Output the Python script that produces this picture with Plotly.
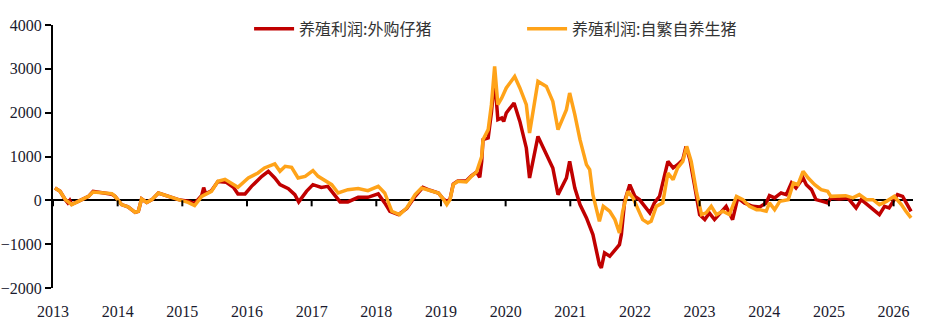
import plotly.graph_objects as go

# Hog farming profit, yuan per head (weekly, decimal-year time axis)
years = list(range(2013, 2027))

purchased_x = [
    2013.03, 2013.11, 2013.19, 2013.23, 2013.26, 2013.29, 2013.39, 2013.55, 2013.62, 2013.75,
    2013.91, 2013.96, 2014.06, 2014.16, 2014.27, 2014.32, 2014.37, 2014.45, 2014.53, 2014.63,
    2014.78, 2014.94, 2015.09, 2015.19, 2015.30, 2015.33, 2015.36, 2015.45, 2015.55, 2015.68,
    2015.79, 2015.86, 2015.97, 2016.07, 2016.23, 2016.33, 2016.43, 2016.51, 2016.64, 2016.74,
    2016.80, 2016.92, 2017.02, 2017.15, 2017.25, 2017.36, 2017.44, 2017.56, 2017.72, 2017.87,
    2018.03, 2018.13, 2018.21, 2018.34, 2018.47, 2018.60, 2018.72, 2018.83, 2018.96, 2019.03,
    2019.09, 2019.14, 2019.19, 2019.26, 2019.39, 2019.47, 2019.55, 2019.60, 2019.63, 2019.65,
    2019.73, 2019.78, 2019.83, 2019.88, 2019.94, 2019.97, 2020.01, 2020.13, 2020.22, 2020.32,
    2020.37, 2020.50, 2020.63, 2020.73, 2020.81, 2020.94, 2020.99, 2021.07, 2021.15, 2021.25,
    2021.35, 2021.45, 2021.48, 2021.53, 2021.61, 2021.69, 2021.76, 2021.79, 2021.84, 2021.92,
    2022.00, 2022.07, 2022.15, 2022.23, 2022.30, 2022.38, 2022.51, 2022.59, 2022.66, 2022.74,
    2022.79, 2022.85, 2022.92, 2023.00, 2023.08, 2023.15, 2023.23, 2023.34, 2023.41, 2023.51,
    2023.59, 2023.69, 2023.82, 2023.93, 2024.03, 2024.08, 2024.16, 2024.26, 2024.34, 2024.42,
    2024.49, 2024.60, 2024.65, 2024.73, 2024.80, 2024.90, 2024.98, 2025.03, 2025.16, 2025.29,
    2025.42, 2025.50, 2025.63, 2025.78, 2025.86, 2025.93, 2026.06, 2026.14, 2026.27,
]
purchased_y = [
    283, 205, 16, -60, 0, -90, -23, 91, 205, 182,
    140, 91, -98, -150, -273, -250, 32, -46, 16, 168,
    91, 16, -20, -70, 110, 290, 150, 220, 430, 410,
    300, 146, 146, 319, 547, 661, 510, 358, 267, 130,
    -36, 205, 358, 296, 319, 130, -36, -36, 68, 68,
    146, -59, -250, -326, -189, 91, 296, 230, 168, 39,
    -30, 30, 370, 440, 440, 560, 647, 525, 889, 1384,
    1423, 2000, 2790, 1840, 1879, 1800, 1993, 2221, 1801, 1195,
    510, 1459, 1042, 739, 130, 510, 889, 282, -98, -401,
    -782, -1466, -1541, -1199, -1276, -1124, -1010, -782, -23, 358,
    91, 16, -137, -287, -59, 91, 889, 739, 814, 928,
    1231, 928, 358, -326, -440, -287, -440, -250, -137, -440,
    55, -59, -137, -150, -59, 107, 55, 168, 130, 397,
    282, 510, 358, 244, 16, -23, -59, 55, 32, 55,
    -173, 16, -137, -326, -137, -173, 130, 91, -250,
]

selfbred_x = [
    2013.03, 2013.11, 2013.19, 2013.29, 2013.39, 2013.55, 2013.62, 2013.75, 2013.91, 2013.96,
    2014.06, 2014.16, 2014.27, 2014.32, 2014.37, 2014.45, 2014.53, 2014.63, 2014.78, 2014.94,
    2015.09, 2015.19, 2015.30, 2015.45, 2015.55, 2015.66, 2015.79, 2015.86, 2016.02, 2016.17,
    2016.27, 2016.43, 2016.51, 2016.59, 2016.69, 2016.79, 2016.90, 2017.02, 2017.10, 2017.20,
    2017.31, 2017.41, 2017.56, 2017.72, 2017.87, 2018.03, 2018.13, 2018.24, 2018.36, 2018.47,
    2018.60, 2018.70, 2018.83, 2018.96, 2019.03, 2019.09, 2019.14, 2019.19, 2019.26, 2019.39,
    2019.47, 2019.55, 2019.63, 2019.65, 2019.73, 2019.78, 2019.83, 2019.88, 2019.94, 2020.01,
    2020.14, 2020.22, 2020.32, 2020.37, 2020.50, 2020.63, 2020.73, 2020.81, 2020.94, 2020.99,
    2021.07, 2021.15, 2021.25, 2021.30, 2021.35, 2021.45, 2021.51, 2021.61, 2021.69, 2021.76,
    2021.81, 2021.89, 2021.97, 2022.05, 2022.12, 2022.20, 2022.25, 2022.33, 2022.43, 2022.51,
    2022.59, 2022.66, 2022.74, 2022.80, 2022.87, 2022.95, 2023.03, 2023.10, 2023.18, 2023.26,
    2023.36, 2023.46, 2023.57, 2023.67, 2023.77, 2023.88, 2023.93, 2024.03, 2024.08, 2024.16,
    2024.24, 2024.37, 2024.45, 2024.52, 2024.60, 2024.68, 2024.78, 2024.88, 2024.98, 2025.03,
    2025.16, 2025.26, 2025.37, 2025.47, 2025.58, 2025.68, 2025.78, 2025.89, 2026.01, 2026.12,
    2026.19, 2026.27,
]
selfbred_y = [
    283, 205, 16, -98, -23, 91, 190, 170, 153, 91,
    -98, -150, -273, -250, 32, -46, 16, 168, 91, 16,
    -46, -121, 91, 205, 433, 480, 360, 296, 510, 624,
    738, 830, 661, 775, 752, 510, 547, 677, 547, 449,
    358, 168, 244, 267, 221, 319, 168, -250, -326, -173,
    130, 282, 221, 168, 39, -98, 16, 358, 433, 420,
    547, 647, 1000, 1384, 1612, 2182, 3055, 2182, 2335, 2563,
    2827, 2563, 2182, 1537, 2713, 2600, 2257, 1612, 2068, 2449,
    1954, 1384, 814, 700, 130, -479, -137, -250, -440, -743,
    -250, 205, 55, -212, -440, -515, -479, -137, -59, 624,
    472, 739, 889, 1231, 889, 205, -326, -287, -137, -326,
    -250, -326, 91, 16, -137, -212, -212, -250, -59, -212,
    -23, 16, 397, 358, 661, 510, 358, 244, 205, 91,
    107, 107, 55, 130, 16, 16, -98, -23, 91, -98,
    -250, -401,
]

fig = go.Figure()
fig.add_trace(go.Scatter(
    x=purchased_x, y=purchased_y, mode="lines", name="养殖利润:外购仔猪",
    line=dict(color="#C00000", width=3.5),
))
fig.add_trace(go.Scatter(
    x=selfbred_x, y=selfbred_y, mode="lines", name="养殖利润:自繁自养生猪",
    line=dict(color="#FFA319", width=3.5),
))

# year tick marks hanging below the zero line
for yr in years:
    fig.add_shape(
        type="line", xref="x", yref="y", x0=yr, x1=yr,
        ysizemode="pixel", yanchor=0, y0=0, y1=-6,
        line=dict(color="black", width=2),
    )

fig.update_layout(
    width=927, height=333,
    margin=dict(l=53, r=14, t=25, b=45, autoexpand=False),
    paper_bgcolor="white", plot_bgcolor="white",
    font=dict(family="Liberation Serif", size=16, color="#1a1a2e"),
    showlegend=True,
    legend=dict(
        orientation="h", x=0.228, xanchor="left", y=0.985, yanchor="middle",
        font=dict(family="Noto Sans CJK SC", size=16, color="#333333"),
        bgcolor="rgba(0,0,0,0)", entrywidth=218, itemwidth=40,
    ),
    xaxis=dict(
        range=[2013, 2026.30], tickvals=years, ticktext=[str(y) for y in years],
        showgrid=False, zeroline=False, showline=False,
        ticks="outside", ticklen=9, tickcolor="rgba(0,0,0,0)",
    ),
    yaxis=dict(
        range=[-2000, 4000], tickvals=[-2000, -1000, 0, 1000, 2000, 3000, 4000],
        showgrid=False, showline=True, linecolor="black", linewidth=2,
        ticks="outside", ticklen=6, tickwidth=2, tickcolor="black",
        zeroline=True, zerolinecolor="black", zerolinewidth=2,
    ),
)

fig.write_html("out.html")
